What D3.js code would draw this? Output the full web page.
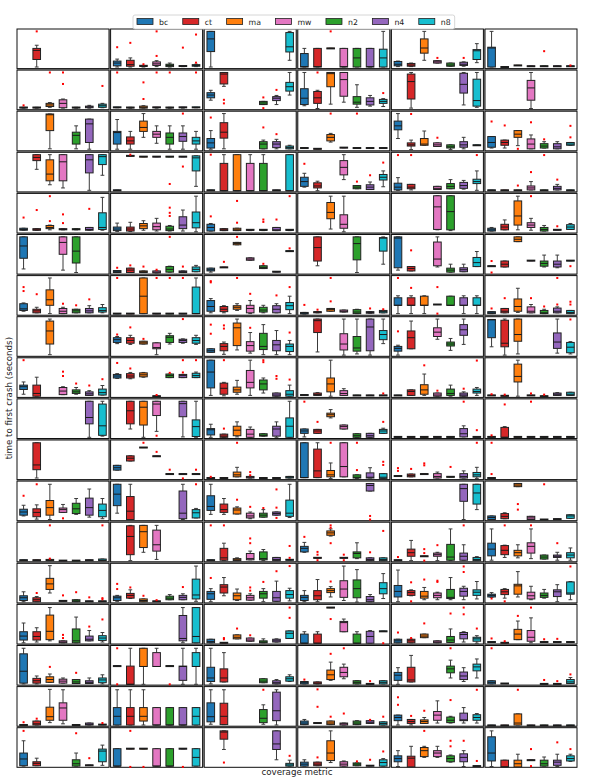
<!DOCTYPE html>
<html>
<head>
<meta charset="utf-8">
<script src="https://cdnjs.cloudflare.com/ajax/libs/d3/7.8.5/d3.min.js"></script>
<style>
  body { margin: 0; background: #fff; }
  svg { display: block; font-family: "DejaVu Sans", sans-serif; }
</style>
</head>
<body>
<script>
// each box: [whiskerLow, q1, median, q3, whiskerHigh, ...outliers], null = no crash
// values are time to first crash, per panel, on a 0-100 scale (no ticks on the chart)
var _ = null;
var metrics = ["bc", "ct", "ma", "mw", "n2", "n4", "n8"];
var colors = ["#1f77b4", "#d62728", "#ff7f0e", "#e377c2", "#2ca02c", "#9467bd", "#17becf"];

var row01 = [
  [_,[4,23,46,51,59,94],_,_,_,_,_],
  [[4,7,14,19,24,54],[4,6,10,21,27,65],[4,5,5.5,7,8,11],[5,8,12,17,20,32,94],[4,5,8,11,14],[5,5.5,6,6.5,7,53],[5,6,8,10,11,15,86]],
  [[4,43,75,94,94],_,_,_,_,_,[21,42,55,91,94]],
  [[4,4,5,38,51],[4,4,5,51,51],[51,51,51,51,51,94],[4,4,5,51,51],[4,4,27,51,51],[4,4,5,51,51],[4,4,27,49,94]],
  [[5,7,11,18,19],[5,6,9,13,14],[21,39,52,75,94],[14,14,17,20,20,27],[6,6,9,14,14],[6,8,11,16,17,27],[15,23,45,48,63]],
  [[4,4,52,54,94],[4,4,4,4,4],[8,8,8,8,8],[6,6,6,6,6],[6,6,6,6,6,44],[6,6,6,6,6],[6,6,6,6,6,8]]
];
var row02 = [
  [[4,4.5,5,5.5,6,11],[4,4.5,5,5.5,6],[6,8,12,16,18,94],[4,5,16,25,27,65,94],[4,4.5,5,5.5,6],[4,5,7,9,11],[5,6,10,14,16,60]],
  [[5,5,5.5,6,6,94],[4,4.5,5,5.5,6],[4,4,6,9,10,27,69],[4,5,5.5,6,6,94],[4,4.5,5,5.5,6,94],[4,5,5.5,6,6],[5,5,5.5,6,6,94]],
  [[24,30,37,43,49],[59,65,90,94,94,25,16],_,_,[13,13,17,21,21,31,4],[13,23,29,33,36,50],[37,47,58,69,94]],
  [[10,13,29,53,94],[3,16,30,46,49,94],[14,58,91,94,94],[19,34,76,94,94],[6,14,19,33,63],[9,12,21,30,36],[8,16,21,26,28,42]],
  [_,[4,27,71,90,94],_,_,_,[12,42,64,92,94],[6,9,23,77,94]],
  [_,_,_,[3,24,55,74,94],_,_,_]
];
var row03 = [
  [_,_,[5,51,91,93,93],_,[5,17,39,47,63],[4,21,68,80,80],_],
  [[4,17,46,49,79],[4,17,25,35,49],[34,49,59,75,94],[19,34,42,49,63],[4,17,34,45,63],[4,24,36,45,63,94],[4,17,25,34,49]],
  [[4,7,20,31,51,84],[5,32,47,71,94],_,_,[5,5,17,23,27,59],[5,8,17,23,29,42],[5,5,8,12,14]],
  [[7,7,7,7,7],[5,5,5,5,5],[22,25,34,41,44,94],[8,8,8,8,8],[7,7,7,7,7,94],[7,7,7,7,7],[7,7,7,7,7]],
  [[31,53,63,75,94],[3,12,15,20,27,93],[14,14,17,31,50],[11,11,15,20,20,33],[3,7,10,15,15],[5,9,15,23,34],[14,14,14,14,14]],
  [[7,9,21,36,36,74],[7,14,21,27,27,64],[13,34,42,51,51,5],[5,5,17,30,40,72],[7,7,12,18,23,29],[5,5,10,18,23],[14,14,17,21,21,63,34]]
];
var row04 = [
  [_,[57,79,87,94,94],[18,28,45,81,94],[10,28,76,94,94],_,[4,48,81,94,94],[42,69,89,94,94]],
  [[4,4,4,4,4],[91,91,91,91,91,94],[89,89,89,89,89],[89,89,89,89,89],[89,89,89,89,89,20],[89,89,89,89,89,64],[14,53,86,91,91]],
  [[4,4,4,4,4,94],[3,3,3,72,94],[3,3,3,94,94],[3,3,3,72,94],[3,3,3,72,94],[4,4,4,4,4],[3,3,3,94,94]],
  [[12,14,26,37,47,71],[3,10,15,23,27],_,[31,43,62,79,94],[8,8,12,16,16,26],[6,6,12,18,25,42],[13,30,37,44,53,74]],
  [[4,5,12,22,36,93],[5,8,12,19,19,93],_,[6,6,9,14,14],[8,8,14,21,31],[7,9,16,24,29],[4,21,26,32,53,93]],
  [[4,4,4,4,4],[4,4,4,4,4],[4,4,4,4,4,16],[5,5,10,15,26,50],[4,4,4,4,4,93],[5,5,9,14,19,31],[4,4,4,4,4]]
];
var row05 = [
  [[7,7,9,12,12,39],[7,7,8,11,11,58],[8,11,14,19,20,30,93],[8,8,9,11,11,47,25],[8,8,9,11,11],[7,7,9,14,14,61],[7,9,14,51,90]],
  [[4,6,10,15,25],[4,5,10,15,27],[7,11,18,24,31],[5,8,16,25,37],[5,6,10,17,19,64,51,43],[5,11,20,41,58],[3,13,26,53,93]],
  [[5,5,14,22,24,42],[6,6,8,11,11],[6,6,8,12,12,26,81],[6,6,7,8,8],[6,6,7,8,8,34,28],[6,6,8,14,14,34],[6,6,7,8,8,93]],
  [_,_,[10,36,52,77,93],[3,12,22,46,93],_,_,_],
  [_,_,_,[8,9,66,94,94],[6,8,54,94,94],_,_],
  [[5,5,8,12,14],[8,8,15,22,33],[8,20,43,81,93],[7,14,20,26,37,93],[5,5,9,14,19],[8,8,8,8,8,17],[9,9,15,21,24]]
];
var row06 = [
  [[13,40,71,94,94],_,_,[10,50,80,94,94],[4,28,58,94,94],_,_],
  [[4,4,6,9,9,16],[4,4,10,15,15,22],[4,4,6,8,8,19],[3,3,5,8,8,11],[5,5,12,19,20,94],[4,4,6,8,8,19],[6,6,12,18,22]],
  [[5,8,11,15,15],[17,17,17,17,17,31],[74,74,77,80,80,94],[35,35,38,41,41],[14,14,17,21,21,26],[6,6,6,6,6],[58,58,58,58,58,65]],
  [_,[21,33,67,94,94],_,_,[4,36,77,94,94],_,[25,58,91,92,94]],
  [[10,16,91,94,94],[8,8,14,19,19,60],_,[18,21,38,81,94],[5,5,10,15,25],[6,6,11,16,25],[19,19,29,42,57]],
  [[20,20,20,20,20,33,4],[18,18,25,33,33],[82,82,88,94,94],[34,34,34,34,34],[18,20,27,33,48],[16,18,25,33,48],[34,34,34,34,34,20]]
];
var row07 = [
  [[10,12,16,29,31,71,61],[6,6,11,15,20,53],[4,25,39,64,94],[4,4,10,17,20,29],[6,6,11,15,15,25],[6,6,11,17,24,40],[6,8,12,19,27]],
  [[4,4,4,4,4,94],[4,4,4,4,4],[4,4,48,94,94],[4,4,4,4,4,94],[4,4,4,4,4,94],[4,4,4,4,4,94],[4,4,4,71,94]],
  [[6,10,22,37,42,86,83],[6,9,15,22,24],[12,15,20,24,29,94],[4,6,17,25,37,54],[6,8,13,20,25],[6,6,15,24,29,50],[4,14,24,32,48,71]],
  [[3,3,5,7,7,26],[6,6,8,9,9,14],[10,10,14,17,17,35,94],[8,8,10,13,13],[4,4,8,14,15],[5,5,7,9,9,17],[6,6,9,12,12,15]],
  [[4,25,25,44,49,94],[4,25,25,44,49,69],[4,25,25,48,49],[27,27,27,27,27,71,4],[25,25,25,48,48],[4,25,25,44,49],[4,25,25,44,49]],
  [[4,4,6,9,9,17],[6,6,10,17,17,43],[7,10,22,41,68],[6,6,10,21,27,43],[4,4,6,12,15,22],[6,6,10,18,21,27,94],[4,4,7,12,12,34,27]]
];
var row08 = [
  [_,_,[4,31,64,89,94],_,_,_,_],
  [[32,35,42,47,50,55],[30,33,40,47,53,73],[31,31,34,38,38,44],[4,19,22,34,34],[31,35,48,52,58],[33,35,40,43,44,94],[30,33,40,47,53]],
  [[10,10,14,19,19,80,57],[5,14,25,32,36,78,70],[16,27,72,84,94],[8,13,27,37,60,72],[4,17,25,58,80],[4,14,29,40,65],[4,12,25,31,40,60]],
  [_,[11,60,90,94,94],_,[3,16,31,57,94],[6,13,21,50,94],[3,14,74,94,94],[32,42,55,65,94]],
  [[3,13,20,25,28,63],[19,19,47,64,89],_,[43,50,61,72,94],[15,26,31,36,45],[30,53,67,80,94],_],
  [[24,47,92,93,93],[3,24,33,91,94],[6,38,55,94,94],_,_,[8,20,36,59,94],[6,9,23,35,37,93]]
];
var row09 = [
  [[8,20,27,31,39,94],[3,3,10,31,51],_,[7,7,16,25,27,65,54],[8,10,14,19,25,35],[5,5,9,14,17,30],[6,6,12,21,30,46]],
  [[48,49,54,58,60,87],[47,49,54,60,63,73],[51,52,57,62,63],[3,3,3,3,3,6],[50,50,55,59,59,62],[50,50,55,58,58,94,63],[50,50,55,61,64,94]],
  [[5,24,64,94,94],[4,8,23,36,38,94],[8,13,19,26,43],[5,24,38,68,94],[11,19,34,44,49,94,89],[3,3,6,11,11,54,47],[3,3,8,17,31,45]],
  [[6,6,6,6,6],[5,5,7,11,12],[3,14,34,49,94],[5,5,10,17,22],[5,5,5,5,5],[5,5,5,5,5],[5,5,5,5,5,10]],
  [[5,5,5,5,5],[5,5,15,19,19],[5,8,19,32,59,81],[3,3,6,11,11,17],[3,5,10,21,31],[3,3,6,11,14,22],[5,11,15,21,25,93]],
  [[5,5,5,5,5,8],[4,4,4,4,4,7],[3,39,53,84,94],[5,5,5,5,5,10],[3,3,3,3,3,7],[5,5,8,11,12],[5,5,8,13,13]]
];
var row10 = [
  [_,_,_,_,_,[3,37,53,94,94],[6,8,32,87,94]],
  [_,[24,37,70,94,94],[3,34,79,94,94],[18,58,87,94,94,7],_,[4,55,88,94,94],[3,5,30,47,94]],
  [[3,9,22,25,36],[3,3,6,11,11,25],[4,7,21,31,42],[3,3,11,23,29],[6,6,8,12,12],[3,6,24,31,42],[3,3,31,52,94]],
  [[4,13,19,24,24,93],[13,13,19,23,23,42],[52,55,60,64,73],[24,24,30,34,34],[3,3,7,12,12],[3,3,7,13,13],[13,13,19,23,26,42]],
  [[4,4,4,4,4],[4,4,4,4,4],[4,4,4,4,4],[4,4,4,4,4],[4,4,4,4,4],[4,4,12,25,32,93],[4,4,4,4,4,21]],
  [[4,4,4,4,4,8],[3,3,3,28,30,86],[4,4,4,4,4],[4,4,4,4,4,93],[4,4,4,4,4],[4,4,4,4,4],[4,4,4,4,4]]
];
var row11 = [
  [_,[4,25,37,93,93],_,_,_,_,_],
  [[24,24,30,36,36],[47,47,54,60,60],[81,81,81,81,81,93],[59,59,59,59,59,70],[14,14,14,14,14,25],[14,14,14,14,14,3],[14,14,14,14,14,25]],
  [[4,4,4,4,4,7],[4,4,4,4,4],[7,7,12,19,31,93],[4,4,6,8,8,19,11],[4,4,4,4,4],[4,4,4,4,4],[4,4,6,8,8]],
  [[5,5,5,93,93],[5,5,22,77,93],[3,7,12,23,42,93],[7,7,33,93,93],[3,4,6,12,12,24,93],[4,4,6,17,30],[3,3,6,15,15,45,37]],
  [[9,9,9,9,9,29,22],[7,7,10,14,14,27],[14,14,14,14,14,41,36],[4,4,8,15,19],[7,7,7,7,7,32],[4,4,8,15,22],[3,7,12,18,31,93]],
  [[4,4,4,4,4,14,93],_,_,_,_,_,_]
];
var row12 = [
  [[12,14,22,29,39,63],[4,10,21,30,40,92],[3,14,33,51,92],[21,21,28,32,41,6],[16,18,30,44,56],[9,14,33,57,80],[5,10,26,42,56]],
  [[19,38,67,92,92],[3,3,24,61,92],_,_,_,[3,5,19,75,92],[7,7,20,28,31,92]],
  [[16,26,36,63,92],[16,21,28,42,56],[17,17,27,32,35,53],[5,7,12,19,22,35],[9,9,14,19,28,32],[14,14,18,22,22,79,33,7],[8,11,19,52,92]],
  [_,_,_,_,_,[75,75,89,94,94,12,3],_],
  [_,_,_,_,_,[3,49,81,92,92],[28,42,70,92,92]],
  [[3,3,8,12,12],[5,5,11,18,20],[86,86,90,94,94,42,28],[3,3,7,11,11],[3,3,3,3,3,92],[4,4,4,4,4],[6,6,12,15,15]]
];
var row13 = [
  [[4,4,4,4,4],[4,4,4,4,4],[3,3,4,6,6,8,92],[3,3,3,3,3],[3,3,3,3,3],[4,4,4,4,4],[3,3,4,7,7,92]],
  [_,[3,18,64,91,92],[24,36,76,92,92],[6,27,43,80,92],_,_,_],
  [[4,4,4,4,4,92],[3,4,10,34,47,92],[3,3,5,8,10],[5,5,8,21,27,59,47],[3,5,8,25,31],[3,3,6,11,11],[5,5,5,5,5,40,10]],
  [[24,25,34,39,49,63],[10,10,10,10,10,25,18,4],[65,67,73,78,83,92,86,47],[10,10,10,10,10,18,4],[8,10,21,25,48],[3,3,6,10,10,24],[3,3,6,10,10,78]],
  [[4,4,4,4,4,12],[3,14,23,32,54],[14,14,14,14,14,32,22,3],[3,14,18,22,24,42],[3,4,12,44,83],[4,4,14,22,43,92],[3,3,6,11,13]],
  [[4,15,32,47,83],[11,18,29,41,42,92],[10,15,23,29,43],[8,22,39,48,83,92],[7,7,12,17,17],[4,11,14,17,24,47],[4,10,17,23,35]]
];
var row14 = [
  [[3,6,13,18,28],[3,3,8,13,16,25],[25,34,48,62,94],[5,5,5,5,5,19],[3,3,5,8,8,27],[4,4,4,4,4,14],[4,4,4,4,4,12,9]],
  [[4,6,13,17,19,48,35],[11,12,19,24,33,39],[3,3,6,10,10,18],[4,4,4,4,4,7],[8,8,12,17,21],[8,8,14,19,23,40],[4,10,20,60,93]],
  [[3,9,23,29,36,63],[18,25,40,46,64],[6,8,18,25,35],[7,7,13,19,23,39,31],[3,12,23,29,36,53],[4,4,13,29,55,80],[5,12,21,31,37,93]],
  [[3,6,14,19,31],[3,8,18,31,59],[15,26,31,36,41,54],[6,14,35,56,93],[2,13,36,58,84],[3,3,8,16,21],[11,23,36,51,74]],
  [[3,15,29,44,83],[18,19,26,31,33,52,4],[8,12,17,29,39,59],[8,13,19,25,27,56,53],[8,11,14,34,64],[8,17,29,37,42,92,78],[10,19,27,33,54]],
  [[14,15,19,22,26,11],[12,21,28,34,36,4],[15,22,43,47,79],[8,10,18,27,42],[12,14,19,25,34],[3,16,28,33,46],[8,22,25,53,54,92]]
];
var row15 = [
  [[3,10,20,31,53],[5,10,19,31,41],[8,11,32,73,92],[3,3,5,8,8,23,15],[3,3,8,38,68],[8,8,12,20,34,44],[5,9,15,21,29,62]],
  [_,_,_,_,_,[3,8,14,72,92],[3,3,19,92,92]],
  [[3,3,6,12,12],[3,3,3,3,3,15,12],[13,13,17,23,23,39],[7,7,10,15,15,22],[3,3,5,8,13],[5,5,8,12,13],[14,14,27,33,33,92,66]],
  [[2,2,2,25,31],[2,2,2,25,31],[92,92,92,92,92,63],[31,31,54,57,63],[2,2,2,25,31],[2,2,19,32,34],[32,32,32,32,32,2]],
  [[3,3,8,12,12,29],[3,3,8,12,12,15],[16,16,20,25,25,52],[3,3,5,8,8],[4,4,10,19,38,77],[5,13,24,29,31,92,75],[2,7,13,17,21,39]],
  [[5,5,5,5,5,14],[3,3,3,3,3,7],[11,11,25,37,58,71],[3,7,17,34,66,92],[5,5,5,5,5,12],[5,5,5,5,5,13],[5,5,5,5,5]]
];
var row16 = [
  [[3,5,35,79,93],[3,5,11,17,23],[7,7,14,21,28,46],[5,5,10,15,18],[4,4,8,14,14,31],[4,4,7,11,18],[3,6,13,18,26]],
  [[48,48,48,48,48,93,2],[2,2,2,48,93],[2,47,47,93,93],[47,47,47,82,93],[48,48,48,48,48,2],[2,12,47,48,93],[2,47,47,82,93]],
  [[3,9,18,45,93],[8,8,18,41,82],_,_,[6,6,10,16,16],[3,3,6,11,14],[9,10,16,21,26]],
  [[3,3,6,9,9,14],[3,3,5,8,8],[12,14,26,38,58,79],[16,21,32,45,53,93],[3,3,7,11,11],[3,3,3,3,3,10],[3,3,7,11,11]],
  [[2,12,25,32,44],[8,8,13,45,75],_,_,[18,31,41,48,63,93],[9,14,23,33,44],[18,36,46,53,66]],
  [[3,3,7,11,11,93],[4,4,4,4,4],_,_,[3,3,3,3,3,13],[3,3,3,3,3,10],[4,4,8,14,19,27]]
];
var row17 = [
  [[3,3,3,3,3,10],[3,3,6,13,13,19],[9,15,24,48,93],[6,15,46,59,92],[3,3,3,3,3],[3,3,5,8,8],[4,4,4,4,4,8]],
  [[3,3,25,47,92],[3,3,25,47,92],[3,13,25,47,92],[3,3,3,47,47],[3,3,3,47,47],[3,3,3,47,47],[3,3,25,47,47]],
  [[5,11,24,59,92],[4,4,25,58,92],_,_,[5,9,20,42,54,92],[3,14,39,86,92],_],
  [[4,4,8,13,17],[8,8,8,8,8,93,49],[4,4,8,13,13,24],[3,3,6,8,8,32],[4,4,8,13,14],[7,7,10,14,14,16],[3,3,7,11,11,24]],
  [[3,14,22,28,28,73,54],[3,7,12,17,17,26],[7,7,12,16,22,39],[8,15,28,37,64],[8,9,15,23,25,66],[8,14,16,33,47],[8,15,22,29,32,92]],
  [[2,2,2,2,2],[2,2,2,2,2],[3,3,8,31,31,92],[2,2,2,2,2],[2,2,2,2,2],[2,2,2,2,2],[2,2,2,2,2]]
];
var row18 = [
  [[3,4,21,36,67,92],[4,4,10,14,23],_,_,[3,3,9,19,36,86],[5,5,5,5,5,23],[5,14,41,46,56]],
  [[3,3,3,47,47],[47,47,47,47,47,92,1],[47,47,47,47,47,1],[3,3,3,47,47],[3,3,3,47,47],[47,47,47,47,47,1],[3,3,25,47,47]],
  [_,[45,71,89,92,92,12],_,_,_,[19,45,59,92,92],[3,3,6,10,18,29]],
  [[3,3,8,13,19],[4,4,8,13,13,25],[12,17,36,67,92],[3,3,8,14,16],[4,4,8,11,11,15],[4,4,4,4,4,19],[3,3,12,19,22,40]],
  [[2,14,22,29,42],[1,1,23,28,53],[25,27,42,50,53,92],[25,27,36,42,53],[13,14,22,29,31,67,53],[2,14,25,34,42,67],[3,3,3,3,3,16]],
  [[2,16,36,77,92],[1,1,1,18,18],[1,1,9,18,33],[18,18,18,18,18,46,3],[3,3,9,18,26],[2,5,13,18,33,63],[15,16,22,29,33,46]]
];

var rows = [row01, row02, row03, row04, row05, row06, row07, row08, row09,
            row10, row11, row12, row13, row14, row15, row16, row17, row18];

var width = 597, height = 781;
var gridLeft = 17, gridTop = 29;
var colStep = 93.6, rowStep = 41.1;
var pw = 92, ph = 39.6;
var gridW = colStep * 5 + pw, gridH = rowStep * 17 + ph;

var svg = d3.select("body").append("svg")
    .attr("width", width)
    .attr("height", height);

// gray gutters between the panels
svg.append("rect")
    .attr("x", gridLeft).attr("y", gridTop)
    .attr("width", gridW)
    .attr("height", gridH)
    .attr("fill", "#9c9c9c");

var x = d3.scaleBand()
    .domain(metrics)
    .range([0, pw])
    .paddingInner(0.42)
    .paddingOuter(0.21);

var y = d3.scaleLinear()
    .domain([0, 100])
    .range([ph, 0]);

var color = d3.scaleOrdinal().domain(metrics).range(colors);
var bw = x.bandwidth();

rows.forEach(function(row, r) {
  row.forEach(function(panel, c) {
    var g = svg.append("g")
        .attr("transform", "translate(" + (gridLeft + c * colStep) + "," + (gridTop + r * rowStep) + ")");

    g.append("rect")
        .attr("width", pw).attr("height", ph)
        .attr("fill", "#fff")
        .attr("stroke", "#111")
        .attr("stroke-width", 1);

    panel.forEach(function(b, i) {
      if (!b) return;
      var m = metrics[i];
      var cx = x(m) + bw / 2;
      var bg = g.append("g");

      // whiskers
      bg.append("line")
          .attr("x1", cx).attr("x2", cx)
          .attr("y1", y(b[0])).attr("y2", y(b[1]))
          .attr("stroke", "#3a3a3a").attr("stroke-width", 1);
      bg.append("line")
          .attr("x1", cx).attr("x2", cx)
          .attr("y1", y(b[3])).attr("y2", y(b[4]))
          .attr("stroke", "#3a3a3a").attr("stroke-width", 1);
      [b[0], b[4]].forEach(function(v) {
        bg.append("line")
            .attr("x1", cx - bw / 4).attr("x2", cx + bw / 4)
            .attr("y1", y(v)).attr("y2", y(v))
            .attr("stroke", "#3a3a3a").attr("stroke-width", 1);
      });

      // box
      var h = y(b[1]) - y(b[3]);
      bg.append("rect")
          .attr("x", x(m))
          .attr("y", h < 1 ? y(b[3]) - 0.5 : y(b[3]))
          .attr("width", bw)
          .attr("height", Math.max(h, 1))
          .attr("fill", color(m))
          .attr("stroke", "#222")
          .attr("stroke-width", 1);

      // median
      bg.append("line")
          .attr("x1", x(m)).attr("x2", x(m) + bw)
          .attr("y1", y(b[2])).attr("y2", y(b[2]))
          .attr("stroke", "#1a1a1a").attr("stroke-width", 1);

      // outliers
      b.slice(5).forEach(function(v) {
        bg.append("rect")
            .attr("x", cx - 1).attr("y", y(v) - 1)
            .attr("width", 2).attr("height", 2)
            .attr("fill", "#ff0000");
      });
    });
  });
});

// legend
var legend = svg.append("g").attr("transform", "translate(133,15)");
var legendBox = legend.append("rect")
    .attr("x", 0).attr("y", 0)
    .attr("height", 14)
    .attr("rx", 2)
    .attr("fill", "#fff")
    .attr("stroke", "#cccccc")
    .attr("stroke-width", 0.8);

var lx = 4;
metrics.forEach(function(m) {
  legend.append("rect")
      .attr("x", lx).attr("y", 3.5)
      .attr("width", 16).attr("height", 6)
      .attr("fill", color(m))
      .attr("stroke", "#222")
      .attr("stroke-width", 0.8);
  var t = legend.append("text")
      .attr("x", lx + 22).attr("y", 10)
      .attr("font-size", "7.8px")
      .attr("fill", "#222")
      .text(m);
  lx += 22 + t.node().getComputedTextLength() + 14.5;
});
legendBox.attr("width", lx - 14.5 + 4);

// axis labels
svg.append("text")
    .attr("x", gridLeft + gridW / 2)
    .attr("y", 775)
    .attr("text-anchor", "middle")
    .attr("font-size", "8.7px")
    .attr("fill", "#222")
    .text("coverage metric");

svg.append("text")
    .attr("transform", "translate(12," + (gridTop + gridH / 2) + ") rotate(-90)")
    .attr("text-anchor", "middle")
    .attr("font-size", "8.7px")
    .attr("fill", "#222")
    .text("time to first crash (seconds)");
</script>
</body>
</html>
